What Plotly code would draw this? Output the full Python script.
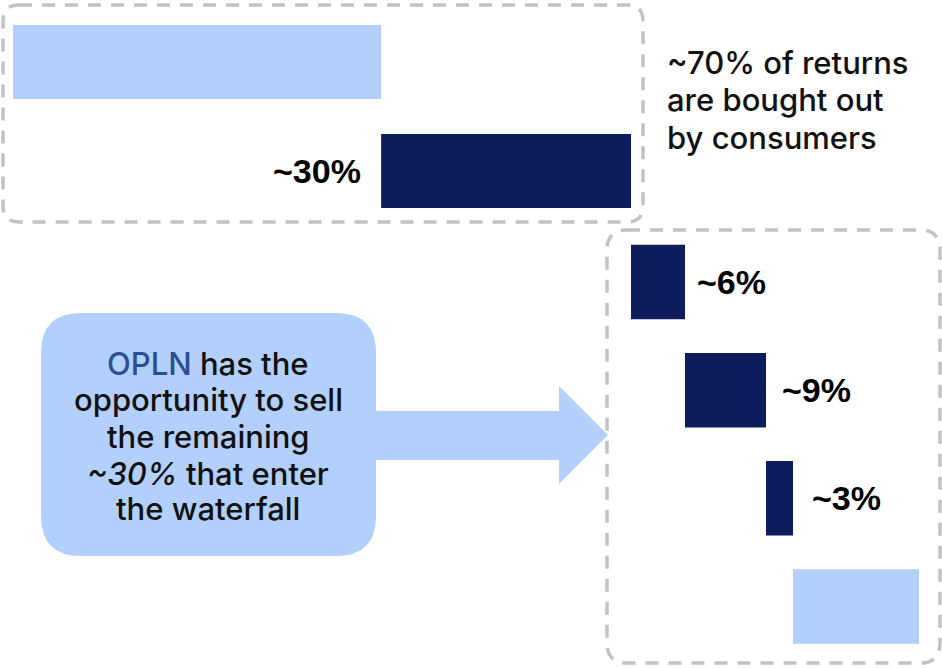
import plotly.graph_objects as go

# Share of returns: bought out by consumers vs. entering the waterfall
top_labels = ["Bought out by consumers", "Enter the waterfall"]
top_values = [70, 30]

# Waterfall steps for the remaining returns
step_labels = ["Step 1", "Step 2", "Step 3", "Remaining"]
step_values = [6, 9, 3, 14]
step_is_remaining = [False, False, False, True]

LIGHT = "#b3d0fc"
DARK = "#0c1c5c"
BOX_LINE = "#c2c2c2"
W, H = 942, 668


def px(x):
    return x / W


def py(y):
    return 1 - y / H


def rounded_path(x0, y0, x1, y1, r):
    """Rounded rectangle in paper coordinates, given pixel corners."""
    pts = [
        f"M {px(x0 + r)} {py(y0)}",
        f"L {px(x1 - r)} {py(y0)}",
        f"Q {px(x1)} {py(y0)} {px(x1)} {py(y0 + r)}",
        f"L {px(x1)} {py(y1 - r)}",
        f"Q {px(x1)} {py(y1)} {px(x1 - r)} {py(y1)}",
        f"L {px(x0 + r)} {py(y1)}",
        f"Q {px(x0)} {py(y1)} {px(x0)} {py(y1 - r)}",
        f"L {px(x0)} {py(y0 + r)}",
        f"Q {px(x0)} {py(y0)} {px(x0 + r)} {py(y0)}",
        "Z",
    ]
    return " ".join(pts)


def cumulative_bases(values):
    bases, acc = [], 0
    for v in values:
        bases.append(acc)
        acc += v
    return bases


fig = go.Figure()

# Top split: consumers (light) then the part entering the waterfall (dark)
top_bases = cumulative_bases(top_values)
top_pos = list(range(len(top_values) - 1, -1, -1))
fig.add_trace(go.Bar(
    orientation="h",
    x=top_values,
    base=top_bases,
    y=top_pos,
    width=0.68,
    marker=dict(color=[LIGHT, DARK], line=dict(width=0)),
    xaxis="x", yaxis="y",
    hoverinfo="skip",
    showlegend=False,
))

# Waterfall of the remaining share
step_bases = cumulative_bases(step_values)
step_pos = list(range(len(step_values) - 1, -1, -1))
fig.add_trace(go.Bar(
    orientation="h",
    x=step_values,
    base=step_bases,
    y=step_pos,
    width=0.69,
    marker=dict(color=[LIGHT if r else DARK for r in step_is_remaining],
                line=dict(width=0)),
    xaxis="x2", yaxis="y2",
    hoverinfo="skip",
    showlegend=False,
))

LABEL_FONT = dict(family="Liberation Sans, Arial, sans-serif", size=34, color="#000000")
TEXT_FONT = dict(family="Inter, sans-serif", size=31, weight=500, color="#111111")

annotations = []
# Label for the dark top bar, left of the bar
annotations.append(dict(
    x=top_bases[1], y=top_pos[1], xref="x", yref="y",
    text=f"<b>~{top_values[1]}%</b>", showarrow=False,
    xanchor="right", yanchor="middle", xshift=-18, font=LABEL_FONT,
))
# Labels for the waterfall steps, right of each bar
shifts = [10, 14, 17]
for i, (v, b, p, rem) in enumerate(zip(step_values, step_bases, step_pos, step_is_remaining)):
    if rem:
        continue
    annotations.append(dict(
        x=b + v, y=p, xref="x2", yref="y2",
        text=f"<b>~{v}%</b>", showarrow=False,
        xanchor="left", yanchor="middle", xshift=shifts[i], font=LABEL_FONT,
    ))

# Side note on the consumer share, one line at a time
note_lines = [f"~{top_values[0]}% of returns", "are bought out", "by consumers"]
for line, yy in zip(note_lines, [62, 99.5, 137]):
    annotations.append(dict(
        x=px(665), y=py(yy), xref="paper", yref="paper",
        text=line, showarrow=False, xanchor="left", yanchor="middle",
        font=TEXT_FONT,
    ))

# Callout text
callout_lines = [
    "<span style='color:#2c4f8f'>OPLN</span> has the",
    "opportunity to sell",
    "the remaining",
    f"<i>~{top_values[1]}%</i> that enter",
    "the waterfall",
]
for line, yy in zip(callout_lines, [363, 400, 436.5, 473, 508.5]):
    annotations.append(dict(
        x=px(208), y=py(yy), xref="paper", yref="paper",
        text=line, showarrow=False, xanchor="center", yanchor="middle",
        font=TEXT_FONT,
    ))

dash_line = dict(color=BOX_LINE, width=3.5, dash="13px,10px")
shapes = [
    # Callout box
    dict(type="path", xref="paper", yref="paper", layer="below",
         path=rounded_path(41, 313, 376, 556, 40),
         fillcolor=LIGHT, line=dict(width=0)),
    # Arrow from callout to the waterfall
    dict(type="path", xref="paper", yref="paper", layer="below",
         path=(f"M {px(370)} {py(411)} L {px(559)} {py(411)} L {px(559)} {py(386)} "
               f"L {px(608)} {py(435)} L {px(559)} {py(484)} L {px(559)} {py(460)} "
               f"L {px(370)} {py(460)} Z"),
         fillcolor=LIGHT, line=dict(width=0)),
    # Dashed frames
    dict(type="path", xref="paper", yref="paper", layer="above",
         path=rounded_path(3, 5, 643, 222, 16), line=dash_line),
    dict(type="path", xref="paper", yref="paper", layer="above",
         path=rounded_path(607, 230, 940, 663, 20), line=dash_line),
]

hidden = dict(visible=False, showgrid=False, zeroline=False, fixedrange=True)

# Top scale: 30 units span the dark bar; axis starts partway into the light bar
fig.update_layout(
    width=W, height=H, autosize=False,
    margin=dict(l=0, r=0, t=0, b=0),
    paper_bgcolor="white", plot_bgcolor="rgba(0,0,0,0)",
    barmode="overlay",
    xaxis=dict(hidden, domain=[px(13), px(631)], range=[25.8, 100]),
    yaxis=dict(hidden, domain=[py(225.5), py(7.5)], range=[-0.5, 1.5]),
    xaxis2=dict(hidden, domain=[px(607), px(941)], range=[-24 / 9, 310 / 9], anchor="y2"),
    yaxis2=dict(hidden, domain=[py(660.5), py(228)], range=[-0.5, 3.5], anchor="x2"),
    annotations=annotations,
    shapes=shapes,
)

fig.write_html("out.html")
